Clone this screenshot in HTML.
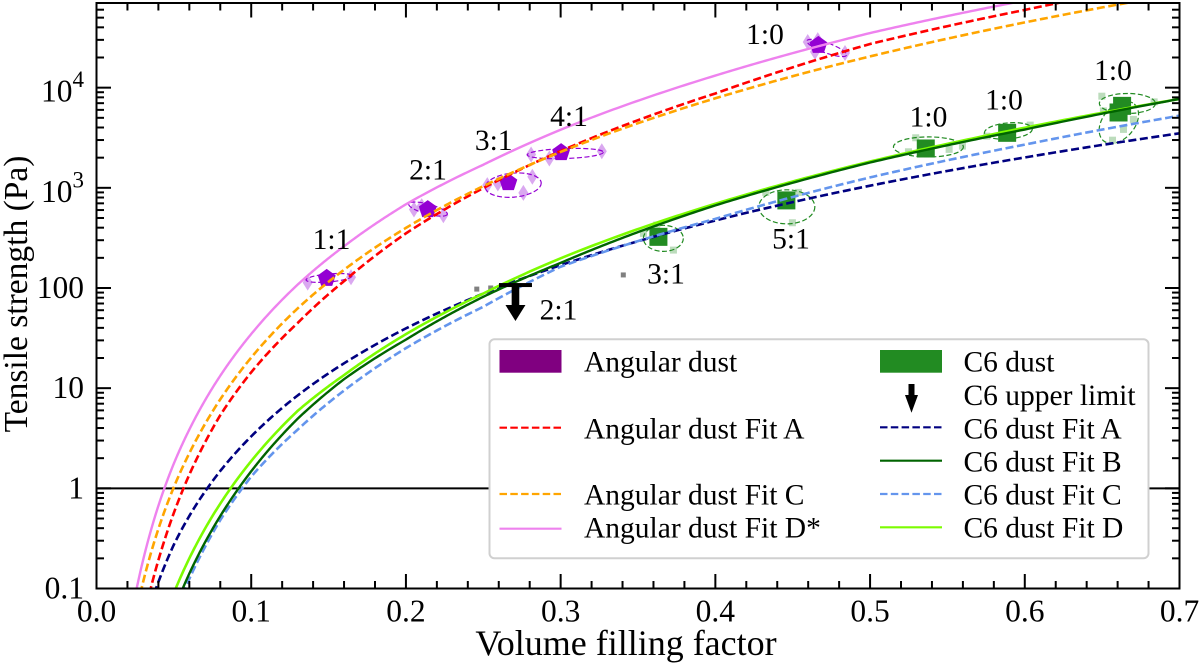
<!DOCTYPE html>
<html lang="en">
<head>
<meta charset="utf-8">
<title>Tensile strength vs volume filling factor</title>
<style>
html,body{margin:0;padding:0;background:#fff;overflow:hidden;}
svg{display:block;}
text{font-family:"Liberation Serif",serif;fill:#000;font-size:29.5px;}
</style>
</head>
<body>
<svg id="chart" xmlns="http://www.w3.org/2000/svg" width="1200" height="666" viewBox="0 0 1200 666">
  <defs>
    <clipPath id="plot-clip"><rect x="96.5" y="3" width="1083" height="585.5"/></clipPath>
  </defs>
  <rect x="0" y="0" width="1200" height="666" fill="#fff"/>
  <g id="marks" clip-path="url(#plot-clip)"></g>
  <g id="axes"></g>
  <text x="626" y="655" text-anchor="middle" style="font-size:36px">Volume filling factor</text>
  <text transform="translate(27,294) rotate(-90)" text-anchor="middle" style="font-size:33.5px">Tensile strength (Pa)</text>

  <g text-anchor="middle">
    <text x="331.5" y="249">1:1</text>
    <text x="428" y="179.3">2:1</text>
    <text x="493.7" y="150">3:1</text>
    <text x="569" y="126">4:1</text>
    <text x="765" y="44">1:0</text>
    <text x="928.5" y="126.7">1:0</text>
    <text x="1004" y="109.3">1:0</text>
    <text x="1113" y="80">1:0</text>
    <text x="791" y="248.3">5:1</text>
    <text x="666" y="283.3">3:1</text>
    <text x="558.5" y="319.3">2:1</text>
  </g>

  <g>
    <rect x="489.5" y="339.3" width="659" height="219" rx="5" ry="5" fill="#fff" stroke="#d0d0d0" stroke-width="2"/>
    <rect x="499.5" y="350" width="62" height="22.7" fill="#800080"/>
    <text x="584" y="371.7">Angular dust</text>
    <line x1="499.5" x2="561.5" y1="427.7" y2="427.7" stroke="#ff0000" stroke-width="2.2" stroke-dasharray="7.5 3.3"/>
    <text x="584" y="438.3">Angular dust Fit A</text>
    <line x1="499.5" x2="561.5" y1="494" y2="494" stroke="#ffa500" stroke-width="2.2" stroke-dasharray="7.5 3.3"/>
    <text x="584" y="504.3">Angular dust Fit C</text>
    <line x1="499.5" x2="561.5" y1="528.7" y2="528.7" stroke="#ee82ee" stroke-width="2.2"/>
    <text x="584" y="537.7">Angular dust Fit D*</text>
    <rect x="880" y="350" width="62" height="22.7" fill="#228b22"/>
    <text x="963.5" y="371.7">C6 dust</text>
    <path d="M908.5 384H914.5V395H918L911.5 412.7L905 395H908.5Z" fill="#000"/>
    <text x="963.5" y="405">C6 upper limit</text>
    <line x1="880" x2="942" y1="427.3" y2="427.3" stroke="#000080" stroke-width="2.2" stroke-dasharray="7.5 3.3"/>
    <text x="963.5" y="438.3">C6 dust Fit A</text>
    <line x1="880" x2="942" y1="460.7" y2="460.7" stroke="#006400" stroke-width="2.2"/>
    <text x="963.5" y="471.3">C6 dust Fit B</text>
    <line x1="880" x2="942" y1="494" y2="494" stroke="#6495ed" stroke-width="2.2" stroke-dasharray="7.5 3.3"/>
    <text x="963.5" y="504.3">C6 dust Fit C</text>
    <line x1="880" x2="942" y1="527.3" y2="527.3" stroke="#7cfc00" stroke-width="2.2"/>
    <text x="963.5" y="537.7">C6 dust Fit D</text>
  </g>
</svg>

<script>
// ---------- chart data ----------
const fitPhi = [0.025,0.03,0.04,0.05,0.06,0.08,0.1,0.13,0.16,0.2,0.25,0.3,0.4,0.5,0.6,0.7];
const angularFitA = [0.0195,0.0468,0.192,0.569,1.37,5.37,14.4,44.7,117,351,995,2330,8750,27300,59700,120000];
const angularFitC = [0.0521,0.114,0.393,1.03,2.24,7.73,20.2,62.5,152,398,1040,2280,7830,20500,44800,86900];
const angularFitD = [0.0849,0.189,0.67,1.77,3.86,13.3,34.7,108,261,685,1700,3800,13200,35100,74100,141000];
const c6FitA = [0.0204,0.0398,0.116,0.274,0.53,1.49,3.3,8.45,17.7,39.5,87.9,169,472,1050,2010,3500];
const c6FitB = [0.00234,0.0055,0.0211,0.0603,0.141,0.529,1.48,4.95,12.3,30.5,81.7,178,668,1790,3820,7710];
const c6FitC = [0.00204,0.00479,0.0189,0.0535,0.125,0.482,1.31,3.85,9.46,25.1,64.9,163,490,1270,2700,5250];
const c6FitD = [0.00398,0.00902,0.033,0.0902,0.2,0.703,1.87,5.93,13.5,34.6,88.1,198,693,1830,3980,7710];

const angularMeanPhi = [0.1488,0.2141,0.2662,0.3003,0.4666];
const angularMeanVal = [125,608,1130,2250,26500];
const angularSamplePhi = [0.1365,0.1645,0.2052,0.2102,0.2242,0.2526,0.2594,0.2817,0.2759,0.2809,0.2927,0.3266,0.4597,0.4662,0.4644,0.4838];
const angularSampleVal = [113,128,608,656,533,1064,1106,1288,891,2150,1960,2320,28600,29800,22750,22200];
const angularEllipsePhi = [0.1503,0.2143,0.2694,0.303,0.472];
const angularEllipseVal = [126,613,1064,2200,24900];
const angularEllipseSemiPhi = [0.0149,0.0129,0.0181,0.0246,0.0136];
const angularEllipseSemiDex = [0.04,0.05,0.12,0.05,0.05];
const angularEllipseTilt = [-5,15,-5,-2,20];

const c6MeanPhi = [0.3632,0.4459,0.536,0.5886,0.6629,0.6606];
const c6MeanVal = [324,749,2470,3540,6580,5650];
const c6SamplePhi = [0.3535,0.3621,0.3729,0.4326,0.4537,0.4498,0.5248,0.5295,0.5511,0.5597,0.5754,0.6035,0.6498,0.6836,0.6508,0.6702,0.6638,0.6567];
const c6SampleVal = [351,425,239,900,900,448,2290,3160,2420,2610,3280,4230,8220,7210,5860,4820,3830,2990];
const c6EllipsePhi = [0.3664,0.4462,0.5377,0.5894,0.6663,0.6608];
const c6EllipseVal = [313,646,2560,3700,6950,4500];
const c6EllipseSemiPhi = [0.0129,0.0181,0.0226,0.0155,0.0181,0.0155];
const c6EllipseSemiDex = [0.13,0.17,0.1,0.08,0.1,0.16];
const c6EllipseTilt = [0,0,0,-5,0,-50];

const greyPointPhi = [0.2458,0.2548,0.3405];
const greyPointVal = [97.5,100,135];
const upperLimitPhi = [0.2708];
const upperLimitVal = [107];

const xMajorTicks = [0,0.1,0.2,0.3,0.4,0.5,0.6,0.7];
const xTickLabels = ['0.0','0.1','0.2','0.3','0.4','0.5','0.6','0.7'];
const xMinorSteps = [0.02,0.04,0.06,0.08];
const yMajorTicks = [0.1,1,10,100,1000,10000];
const yTickLabels = ['0.1','1','10','100','10|3','10|4'];
const yMinorFactors = [2,3,4,5,6,7,8,9];
const referenceLevel = [1];

// ---------- axis functions ----------
const X0 = 96.5, X1 = 1179.5, Y0 = 588.5, Y1 = 3;
const xDomain = [0, 0.7];
const yDomain = [0.1, 70000];
function xAxis(p) { return X0 + (p - xDomain[0]) / (xDomain[1] - xDomain[0]) * (X1 - X0); }
function yAxis(v) { return Y0 - (Math.log10(v) - Math.log10(yDomain[0])) / (Math.log10(yDomain[1]) - Math.log10(yDomain[0])) * (Y0 - Y1); }

const NS = 'http://www.w3.org/2000/svg';
const marks = document.getElementById('marks');
const axes = document.getElementById('axes');
function mk(parent, tag, attrs) {
  const el = document.createElementNS(NS, tag);
  for (const k in attrs) el.setAttribute(k, attrs[k]);
  parent.appendChild(el);
  return el;
}

function fitPath(values) {
  const parts = [];
  for (let i = 0; i < fitPhi.length - 1; i++) {
    const a = Math.log10(fitPhi[i]), b = Math.log10(fitPhi[i + 1]);
    const c = Math.log10(values[i]), d = Math.log10(values[i + 1]);
    for (let s = 0; s <= 40; s++) {
      const t = s / 40;
      const px = xAxis(Math.pow(10, a + (b - a) * t));
      const py = yAxis(Math.pow(10, c + (d - c) * t));
      if (py <= Y0 + 6 && py >= Y1 - 3) {
        parts.push(px.toFixed(2) + ' ' + py.toFixed(2));
      }
    }
  }
  return 'M' + parts.join('L');
}

// reference line at 1 Pa
referenceLevel.forEach(function (v) {
  const el = mk(marks, 'line', { x1: X0, x2: X1, y1: yAxis(v), y2: yAxis(v), stroke: '#000', 'stroke-width': 2 });
  
  
});

// grey points
greyPointPhi.forEach(function (p, i) {
  const el = mk(marks, 'rect', { x: xAxis(p) - 2.5, y: yAxis(greyPointVal[i]) - 2.5, width: 5, height: 5, fill: '#808080' });
  
  
});

// angular samples (thin diamonds)
angularSamplePhi.forEach(function (p, i) {
  const cx = xAxis(p), cy = yAxis(angularSampleVal[i]);
  const el = mk(marks, 'polygon', { points: [cx, cy - 8, cx + 5, cy, cx, cy + 8, cx - 5, cy].join(' '), fill: '#9400d3', 'fill-opacity': 0.34 });
  
  
});

// c6 samples (small squares)
c6SamplePhi.forEach(function (p, i) {
  const el = mk(marks, 'rect', { x: xAxis(p) - 3.5, y: yAxis(c6SampleVal[i]) - 3.5, width: 7, height: 7, fill: '#228b22', 'fill-opacity': 0.3 });
  
  
});

// angular means (pentagons)
angularMeanPhi.forEach(function (p, i) {
  const cx = xAxis(p), cy = yAxis(angularMeanVal[i]);
  const pts = [];
  for (let k = 0; k < 5; k++) {
    const ang = -Math.PI / 2 + k * 2 * Math.PI / 5;
    pts.push((cx + 9.4 * Math.cos(ang)).toFixed(2) + ',' + (cy + 9.4 * Math.sin(ang)).toFixed(2));
  }
  const el = mk(marks, 'polygon', { points: pts.join(' '), fill: '#9400d3' });
  
  
});

// c6 means (squares)
c6MeanPhi.forEach(function (p, i) {
  const el = mk(marks, 'rect', { x: xAxis(p) - 9, y: yAxis(c6MeanVal[i]) - 9, width: 18, height: 18, fill: '#228b22' });
  
  
});

// error ellipses
const xPerPhi = (X1 - X0) / (xDomain[1] - xDomain[0]);
const yPerDex = (Y0 - Y1) / (Math.log10(yDomain[1]) - Math.log10(yDomain[0]));
angularEllipsePhi.forEach(function (p, i) {
  const cx = xAxis(p), cy = yAxis(angularEllipseVal[i]);
  const el = mk(marks, 'ellipse', { cx: cx, cy: cy, rx: angularEllipseSemiPhi[i] * xPerPhi, ry: angularEllipseSemiDex[i] * yPerDex, transform: 'rotate(' + angularEllipseTilt[i] + ' ' + cx + ' ' + cy + ')', fill: 'none', stroke: '#9400d3', 'stroke-width': 1.2, 'stroke-dasharray': '5 2.5' });
  
  
});
c6EllipsePhi.forEach(function (p, i) {
  const cx = xAxis(p), cy = yAxis(c6EllipseVal[i]);
  const el = mk(marks, 'ellipse', { cx: cx, cy: cy, rx: c6EllipseSemiPhi[i] * xPerPhi, ry: c6EllipseSemiDex[i] * yPerDex, transform: 'rotate(' + c6EllipseTilt[i] + ' ' + cx + ' ' + cy + ')', fill: 'none', stroke: '#228b22', 'stroke-width': 1.2, 'stroke-dasharray': '5 2.5' });
  
  
});

// fit curves
const dashPattern = '8 3.6';
let curve;
curve = mk(marks, 'path', { d: fitPath(angularFitA), fill: 'none', stroke: '#ff0000', 'stroke-width': 2.6, 'stroke-dasharray': dashPattern });


curve = mk(marks, 'path', { d: fitPath(angularFitC), fill: 'none', stroke: '#ffa500', 'stroke-width': 2.6, 'stroke-dasharray': dashPattern });


curve = mk(marks, 'path', { d: fitPath(angularFitD), fill: 'none', stroke: '#ee82ee', 'stroke-width': 2.4 });


curve = mk(marks, 'path', { d: fitPath(c6FitA), fill: 'none', stroke: '#000080', 'stroke-width': 2.6, 'stroke-dasharray': dashPattern });


curve = mk(marks, 'path', { d: fitPath(c6FitC), fill: 'none', stroke: '#6495ed', 'stroke-width': 2.6, 'stroke-dasharray': dashPattern });


curve = mk(marks, 'path', { d: fitPath(c6FitD), fill: 'none', stroke: '#7cfc00', 'stroke-width': 2.6 });


curve = mk(marks, 'path', { d: fitPath(c6FitB), fill: 'none', stroke: '#006400', 'stroke-width': 2.4 });



// upper limit marker
upperLimitPhi.forEach(function (p, i) {
  const cx = xAxis(p), cy = yAxis(upperLimitVal[i]);
  const bar = mk(marks, 'rect', { x: cx - 16.5, y: cy - 2, width: 33, height: 4, fill: '#000' });
  
  
  const arrow = mk(marks, 'path', { d: 'M' + (cx - 3.8) + ' ' + cy + 'H' + (cx + 3.8) + 'V' + (cy + 20) + 'H' + (cx + 10) + 'L' + cx + ' ' + (cy + 36) + 'L' + (cx - 10) + ' ' + (cy + 20) + 'H' + (cx - 3.8) + 'Z', fill: '#000' });
  
  
});

// ---------- axes ----------
function tick(x1, y1, x2, y2, name) {
  const el = mk(axes, 'line', { x1: x1, y1: y1, x2: x2, y2: y2, stroke: '#000', 'stroke-width': 2 });
  
  
}

xMajorTicks.forEach(function (t, i) {
  const px = xAxis(t);
  tick(px, Y0, px, Y0 - 14.5, 'x-major-tick');
  tick(px, Y1, px, Y1 + 14.5, 'x-major-tick-top');
  const label = mk(axes, 'text', { x: px, y: 621.7, 'text-anchor': 'middle', style: 'font-size:31.5px' });
  label.textContent = xTickLabels[i];
  
  
  if (i < xMajorTicks.length - 1) {
    xMinorSteps.forEach(function (s) {
      const mx = xAxis(t + s);
      tick(mx, Y0, mx, Y0 - 7.5, 'x-minor-tick');
      tick(mx, Y1, mx, Y1 + 7.5, 'x-minor-tick-top');
    });
  }
});

yMajorTicks.forEach(function (t, i) {
  const py = yAxis(t);
  tick(X0, py, X0 + 14.5, py, 'y-major-tick');
  tick(X1, py, X1 - 14.5, py, 'y-major-tick-right');
  yMinorFactors.forEach(function (f) {
    const v = t * f;
    if (v <= yDomain[1]) {
      const my = yAxis(v);
      tick(X0, my, X0 + 7.5, my, 'y-minor-tick');
      tick(X1, my, X1 - 7.5, my, 'y-minor-tick-right');
    }
  });
  const parts = yTickLabels[i].split('|');
  const label = mk(axes, 'text', { x: 84, y: py + (parts.length > 1 ? 14 : 10), 'text-anchor': 'end', style: 'font-size:31.5px' });
  
  
  label.textContent = parts[0];
  if (parts.length > 1) {
    const sup = mk(label, 'tspan', { dy: -14.5, style: 'font-size:23px' });
    sup.textContent = parts[1];
  }
});

const frame = mk(axes, 'rect', { x: X0, y: Y1, width: X1 - X0, height: Y0 - Y1, fill: 'none', stroke: '#000', 'stroke-width': 2 });


</script>
</body>
</html>
